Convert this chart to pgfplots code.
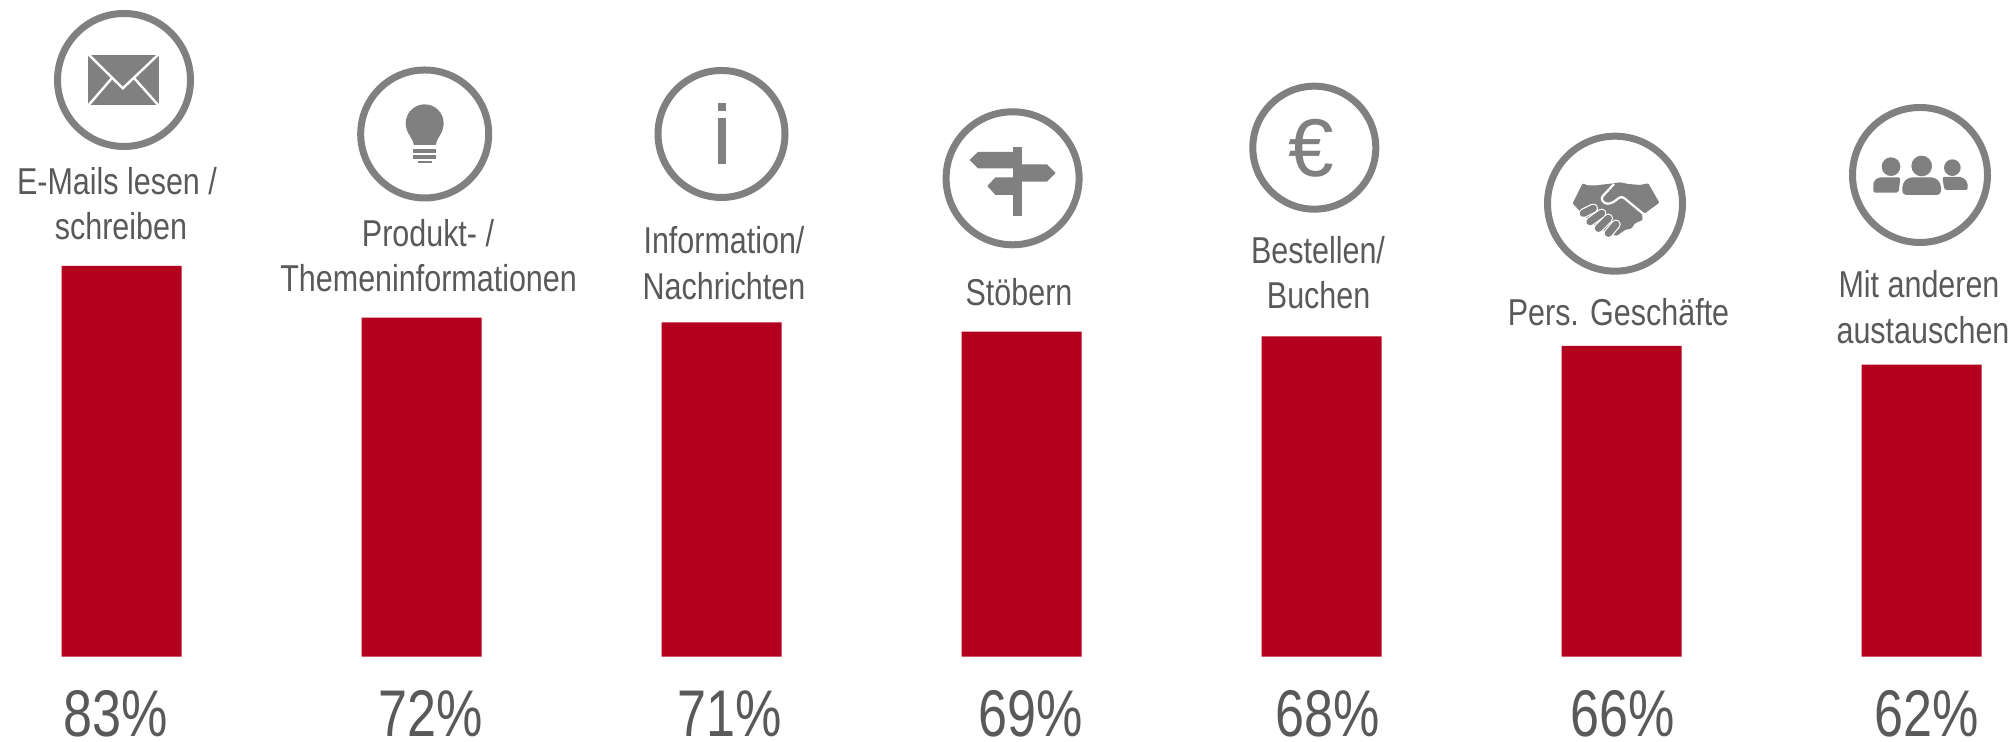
\documentclass[border=0pt]{standalone}
\usepackage{fontspec}
\usepackage{pgfplots}
\pgfplotsset{compat=1.18}
\setmainfont{Liberation Sans}
\newfontfamily\labfont[FakeStretch=0.815]{Liberation Sans}
\newfontfamily\pctfont[FakeStretch=0.79]{Liberation Sans}
\definecolor{barred}{HTML}{B2001E}
\definecolor{txt}{HTML}{595959}
\definecolor{ico}{HTML}{808080}
\newcommand{\lab}[3]{\node[anchor=base,inner sep=0pt,text=txt,font=\labfont\fontsize{18.7}{22}\selectfont] at (#1,#2) {#3};}
\newcommand{\pct}[2]{\node[anchor=base,inner sep=0pt,text=txt,font=\pctfont\fontsize{33}{38}\selectfont] at (#1,737) {#2};}
\begin{document}
\begin{tikzpicture}
\path[use as bounding box] (0,0) rectangle (1007.5pt,371pt);
\begin{axis}[
  at={(0,0)},anchor=south west,
  scale only axis,width=1007.5pt,height=371pt,
  xmin=-0.4057,xmax=6.311,ymin=-18.11,ymax=139.43,
  hide axis,clip=false,
  ybar,bar width=60pt,
]
\addplot[fill=barred,draw=none] coordinates {(0,83) (1,72) (2,71) (3,69) (4,68) (5,66) (6,62)};
\end{axis}
\begin{scope}[x=0.5pt,y=-0.5pt,shift={(0pt,371pt)}]
% labels
\lab{117}{195}{E-Mails lesen /}
\lab{121}{240}{schreiben}
\lab{428}{246.7}{Produkt- /}
\lab{428.6}{291.7}{Themeninformationen}
\lab{724}{254}{Information/}
\lab{724}{300}{Nachrichten}
\lab{1019}{306}{Stöbern}
\lab{1318}{264}{Bestellen/}
\lab{1318.6}{309}{Buchen}
\lab{1618.5}{325.7}{Pers. Geschäfte}
\lab{1919}{298}{Mit anderen}
\lab{1923}{343.3}{austauschen}
% percentages
\pct{115.6}{83\%}
\pct{431}{72\%}
\pct{730}{71\%}
\pct{1030.6}{69\%}
\pct{1327.4}{68\%}
\pct{1623}{66\%}
\pct{1927}{62\%}
% circles
\draw[ico,line width=3.5pt] (124,80) circle[radius=66.5];
\draw[ico,line width=3.5pt] (424.7,134) circle[radius=64];
\draw[ico,line width=3.5pt] (721.5,134) circle[radius=63.5];
\draw[ico,line width=3.5pt] (1012.6,178.3) circle[radius=66.5];
\draw[ico,line width=3.5pt] (1314.3,147.7) circle[radius=61.5];
\draw[ico,line width=3.5pt] (1615,203.7) circle[radius=67.5];
\draw[ico,line width=3.5pt] (1920,175) circle[radius=67.5];
% envelope
\fill[ico] (88.4,55) rectangle (158.5,105);
\draw[white,line width=1.2pt] (87,53) -- (122.8,88.3) -- (160,53);
\draw[white,line width=1.2pt] (87,107) -- (112,78);
\draw[white,line width=1.2pt] (160,107) -- (134,78);
% bulb
\begin{scope}[shift={(395,95)},xscale=1/3,yscale=1/3]
\fill[ico] (57,150) .. controls (55,130) and (32,115) .. (32,85) arc[start angle=180,end angle=360,radius=57] .. controls (146,115) and (124,130) .. (122,150) -- cycle;
\fill[ico] (55,162) rectangle (124,175);
\fill[ico] (55,180) rectangle (124,192);
\fill[ico] (68,197) rectangle (112,204);
\end{scope}
% i
\fill[ico] (717.5,103.3) rectangle (725.6,111.3);
\fill[ico] (717.5,118.3) rectangle (725.6,164.3);
% signpost
\fill[ico] (1012.7,146.7) rectangle (1021.8,216);
\fill[ico] (1015,152) -- (977.8,152) -- (969.6,160) -- (977.8,168.3) -- (1015,168.3) -- cycle;
\fill[ico] (1015,164.3) -- (1047,164.3) -- (1055.7,173) -- (1047,181.7) -- (1015,181.7) -- cycle;
\fill[ico] (1015,177.3) -- (995.5,177.3) -- (987.3,186) -- (995.5,195) -- (1015,195) -- cycle;
% euro
\node[anchor=base,inner sep=0pt,text=ico,font=\fontsize{41}{41}\selectfont] at (1311,176.7) {€};
% handshake
\begin{scope}[shift={(1560,170)},xscale=1/3,yscale=1/3]
\fill[ico,rounded corners=0.5pt] (68,40) -- (82,46) -- (110,46) -- (160,40) -- (180,37) -- (205,42) -- (240,45) -- (265,40) -- (298,98) -- (255,130) -- (245,125) -- (248,150) -- (225,160) -- (215,175) -- (195,180) -- (170,198) -- (150,190) -- (110,170) -- (70,135) -- (38,100) -- cycle;
\draw[white,line width=1.1pt,rounded corners=1.5pt] (162,42) -- (122,85) -- (135,102) -- (155,100) -- (185,78) -- (248,130);
\foreach \a/\b/\c/\d in {70/130/100/115,90/155/125/130,115/175/145/145,145/190/168/163}{
  \draw[white,line width=4.8pt,line cap=round] (\a,\b) -- (\c,\d);
}
\foreach \a/\b/\c/\d in {70/130/100/115,90/155/125/130,115/175/145/145,145/190/168/163}{
  \draw[ico,line width=3.6pt,line cap=round] (\a,\b) -- (\c,\d);
}
\end{scope}
% people
\begin{scope}[shift={(1865,145)},xscale=1/3,yscale=1/3]
\fill[ico] (78,65) circle[radius=28];
\fill[ico] (170,63) circle[radius=31];
\fill[ico] (262,68) circle[radius=25];
\fill[ico,rounded corners=1pt] (25,143) -- (25,110) -- (40,97) -- (106,97) -- (101,143) -- cycle;
\fill[ico,rounded corners=2pt] (112,150) -- (112,115) -- (130,97) -- (210,97) -- (228,115) -- (228,150) -- cycle;
\fill[ico,rounded corners=1pt] (232,96) -- (292,96) -- (308,112) -- (308,135) -- (238,135) -- cycle;
\end{scope}
\end{scope}
\end{tikzpicture}
\end{document}
